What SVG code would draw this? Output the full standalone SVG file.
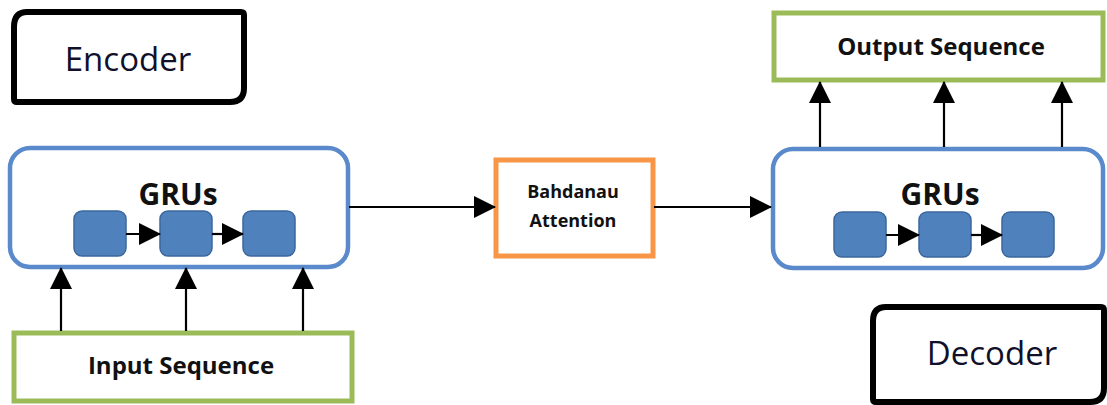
<svg xmlns="http://www.w3.org/2000/svg" width="1107" height="405" viewBox="0 0 1107 405">
  <defs>
    <marker id="head" markerUnits="userSpaceOnUse" markerWidth="22" markerHeight="22" refX="21" refY="11" orient="auto">
      <path d="M0,0 L22,11 L0,22 Z" fill="#000"/>
    </marker>
    <style>
      .tag { fill: #fff; stroke: #000; stroke-width: 6; }
      .tag-text { font-family: "Open Sans", "Liberation Sans", sans-serif; font-size: 33px; fill: #10102a; text-anchor: middle; }
      .gru { fill: #fff; stroke: #5a8acb; stroke-width: 4.5; }
      .gru-text { font-family: "Open Sans", "Liberation Sans", sans-serif; font-size: 30px; font-weight: bold; fill: #111; text-anchor: middle; }
      .cell { fill: #4f81bd; stroke: #3b679c; stroke-width: 1.5; }
      .seq { fill: #fff; stroke: #9bbb59; stroke-width: 5; }
      .seq-text { font-family: "Open Sans", "Liberation Sans", sans-serif; font-size: 24px; font-weight: bold; fill: #111; text-anchor: middle; }
      .attn { fill: #fff; stroke: #f79646; stroke-width: 5; }
      .attn-text { font-family: "Open Sans", "Liberation Sans", sans-serif; font-size: 18px; font-weight: bold; fill: #111; text-anchor: middle; }
      .link { stroke: #000; stroke-width: 2.2; fill: none; marker-end: url(#head); }
    </style>
  </defs>

  <!-- Encoder label -->
  <g id="encoder-label">
    <path class="tag" d="M27,12 L241,12 Q244,12 244,15 L244,88 Q244,102 230,102 L17,102 Q14,102 14,99 L14,27 Q14,12 27,12 Z"/>
    <text class="tag-text" x="128" y="71">Encoder</text>
  </g>

  <!-- Encoder GRU block -->
  <g id="encoder-gru">
    <rect class="gru" x="10" y="148" width="338" height="119" rx="20"/>
    <text class="gru-text" x="178" y="205">GRUs</text>
    <rect class="cell" x="74" y="211" width="52" height="45" rx="8"/>
    <rect class="cell" x="160" y="211" width="52" height="45" rx="8"/>
    <rect class="cell" x="243" y="211" width="52" height="45" rx="8"/>
  </g>

  <!-- Input sequence -->
  <g id="input-sequence">
    <rect class="seq" x="14" y="333" width="338" height="68"/>
    <text class="seq-text" x="181" y="374">Input Sequence</text>
  </g>

  <!-- Attention -->
  <g id="attention">
    <rect class="attn" x="496" y="160" width="157" height="96"/>
    <text class="attn-text" x="573" y="198">Bahdanau</text>
    <text class="attn-text" x="573" y="227">Attention</text>
  </g>

  <!-- Decoder GRU block -->
  <g id="decoder-gru">
    <rect class="gru" x="773" y="149" width="330" height="119" rx="20"/>
    <text class="gru-text" x="940" y="205">GRUs</text>
    <rect class="cell" x="834" y="212" width="52" height="45" rx="8"/>
    <rect class="cell" x="919" y="212" width="52" height="45" rx="8"/>
    <rect class="cell" x="1002" y="212" width="52" height="45" rx="8"/>
  </g>

  <!-- Output sequence -->
  <g id="output-sequence">
    <rect class="seq" x="774" y="13" width="329" height="67"/>
    <text class="seq-text" x="941" y="55">Output Sequence</text>
  </g>

  <!-- Decoder label -->
  <g id="decoder-label">
    <path class="tag" d="M886,307 L1101,307 Q1104,307 1104,310 L1104,388 Q1104,402 1090,402 L876,402 Q873,402 873,399 L873,321 Q873,307 886,307 Z"/>
    <text class="tag-text" x="992" y="365">Decoder</text>
  </g>

  <!-- Connectors -->
  <g id="connectors">
    <line class="link" x1="126" y1="234" x2="160" y2="234"/>
    <line class="link" x1="212" y1="234" x2="243" y2="234"/>
    <line class="link" x1="886" y1="235" x2="919" y2="235"/>
    <line class="link" x1="971" y1="235" x2="1002" y2="235"/>

    <line class="link" x1="61" y1="331" x2="61" y2="268"/>
    <line class="link" x1="186" y1="331" x2="186" y2="268"/>
    <line class="link" x1="303" y1="331" x2="303" y2="268"/>

    <line class="link" x1="349" y1="207" x2="495" y2="207"/>
    <line class="link" x1="654" y1="207" x2="771" y2="207"/>

    <line class="link" x1="820" y1="147" x2="820" y2="82"/>
    <line class="link" x1="944" y1="147" x2="944" y2="82"/>
    <line class="link" x1="1062" y1="147" x2="1062" y2="82"/>
  </g>
</svg>
